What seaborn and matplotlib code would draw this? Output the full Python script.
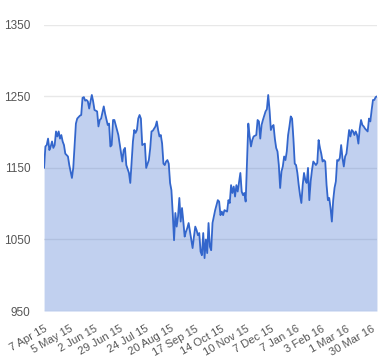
import matplotlib
matplotlib.use("Agg")
import matplotlib.pyplot as plt
import seaborn as sns
import pandas as pd

# trading-day number (0 = 7 Apr 15) and closing value
day = [0, 1, 2, 3, 4, 5, 6, 7, 8, 9, 10, 11, 12, 13, 14, 15, 16, 18, 19, 20,
       21, 22, 23, 24, 25, 27, 28, 29, 30, 31, 32, 33, 34, 35, 36, 37, 38, 40, 41, 42,
       43, 45, 46, 48, 49, 50, 51, 52, 53, 54, 56, 57, 59, 60, 61, 62, 64, 65, 66, 67,
       68, 69, 70, 71, 72, 73, 74, 76, 77, 79, 80, 81, 82, 84, 85, 86, 87, 88, 89, 90,
       91, 92, 93, 94, 95, 96, 97, 98, 99, 100, 101, 102, 103, 104, 105, 106, 107, 108, 109, 110,
       112, 113, 114, 115, 116, 117, 118, 119, 120, 121, 122, 123, 124, 125, 126, 127, 128, 129, 131, 132,
       133, 134, 135, 136, 138, 139, 140, 141, 142, 143, 144, 145, 146, 148, 149, 150, 151, 152, 153, 154,
       155, 156, 157, 158, 160, 161, 162, 163, 164, 165, 167, 168, 169, 170, 171, 172, 173, 174, 175, 176,
       177, 178, 179, 180, 181, 182, 183, 184, 185, 186, 187, 188, 189, 190, 191, 192, 193, 194, 195, 196,
       197, 198, 199, 200, 201, 202, 203, 205, 206, 207, 208, 209, 210, 211, 212, 213, 214, 215, 216, 217,
       218, 219, 220, 221, 222, 223, 224, 225, 226, 227, 228, 229, 230, 231, 232, 233, 234, 235, 236, 237,
       238, 239, 240, 241, 242, 243, 244, 245, 246, 247, 248, 249, 250, 251]
close = [1150, 1180, 1182, 1191, 1175, 1180, 1187, 1178, 1182, 1201, 1194, 1201, 1191, 1196, 1187, 1182, 1170, 1166, 1154, 1145,
         1136, 1150, 1182, 1212, 1219, 1223, 1224, 1248, 1249, 1244, 1245, 1243, 1233, 1243, 1252, 1243, 1231, 1229, 1208, 1217,
         1219, 1236, 1226, 1210, 1212, 1180, 1182, 1217, 1217, 1210, 1196, 1184, 1159, 1175, 1178, 1154, 1143, 1129, 1159, 1187,
         1203, 1199, 1203, 1219, 1224, 1219, 1182, 1184, 1150, 1161, 1177, 1201, 1202, 1208, 1215, 1203, 1194, 1196, 1184, 1156,
         1154, 1159, 1161, 1156, 1129, 1119, 1087, 1049, 1087, 1068, 1082, 1108, 1075, 1094, 1075, 1054, 1061, 1066, 1073, 1061,
         1038, 1054, 1068, 1063, 1056, 1059, 1033, 1028, 1059, 1024, 1050, 1031, 1073, 1040, 1035, 1073, 1082, 1091, 1105, 1103,
         1084, 1089, 1084, 1091, 1089, 1105, 1101, 1126, 1115, 1124, 1110, 1126, 1117, 1143, 1117, 1112, 1115, 1103, 1159, 1212,
         1194, 1180, 1189, 1194, 1196, 1217, 1215, 1191, 1210, 1217, 1229, 1232, 1252, 1231, 1203, 1208, 1210, 1191, 1178, 1173,
         1154, 1122, 1145, 1152, 1166, 1161, 1173, 1196, 1208, 1222, 1219, 1191, 1156, 1154, 1143, 1126, 1112, 1101, 1126, 1143,
         1133, 1129, 1150, 1105, 1131, 1147, 1159, 1154, 1157, 1189, 1178, 1170, 1159, 1161, 1159, 1126, 1105, 1108, 1094, 1075,
         1105, 1122, 1131, 1161, 1160, 1164, 1182, 1164, 1152, 1166, 1170, 1187, 1203, 1194, 1203, 1201, 1196, 1201, 1196, 1184,
         1205, 1217, 1210, 1208, 1205, 1203, 1201, 1219, 1215, 1231, 1245, 1245, 1249, 1250]

tick_days = [0, 19, 38, 57, 76, 95, 114, 133, 152, 171, 190, 209, 228, 247]
tick_labels = ["7 Apr 15", "5 May 15", "2 Jun 15", "29 Jun 15", "24 Jul 15", "20 Aug 15",
               "17 Sep 15", "14 Oct 15", "10 Nov 15", "7 Dec 15", "7 Jan 16", "3 Feb 16",
               "1 Mar 16", "30 Mar 16"]
y_ticks = [950, 1050, 1150, 1250, 1350]

df = pd.DataFrame({"day": day, "close": close})

sns.set_style("white")
plt.rcParams["font.family"] = ["Liberation Sans", "DejaVu Sans"]

fig = plt.figure(figsize=(3.8, 3.6), dpi=100)
ax = fig.add_axes([0.116, 0.136, 0.876, 0.795])

line_color = "#3366cc"
ax.fill_between(df["day"], df["close"], 950, color=line_color, alpha=0.3, linewidth=0, zorder=2)
sns.lineplot(data=df, x="day", y="close", ax=ax, color=line_color, linewidth=1.3, zorder=3)

ax.set_xlim(0, 251)
ax.set_ylim(950, 1350)
ax.set_yticks(y_ticks)
ax.set_yticklabels([str(v) for v in y_ticks])
ax.set_xticks(tick_days)
ax.set_xticklabels(tick_labels, rotation=30, ha="right", rotation_mode="anchor")
ax.grid(axis="y", color="#e8e8e8", linewidth=1, zorder=1)
ax.set_axisbelow(True)
ax.tick_params(axis="both", length=0, colors="#555555")
ax.tick_params(axis="y", pad=10, labelsize=8.5)
ax.tick_params(axis="x", pad=9, labelsize=8)
ax.set_xlabel("")
ax.set_ylabel("")
sns.despine(ax=ax, left=True, bottom=True)

fig.savefig("out.png", dpi=100)
